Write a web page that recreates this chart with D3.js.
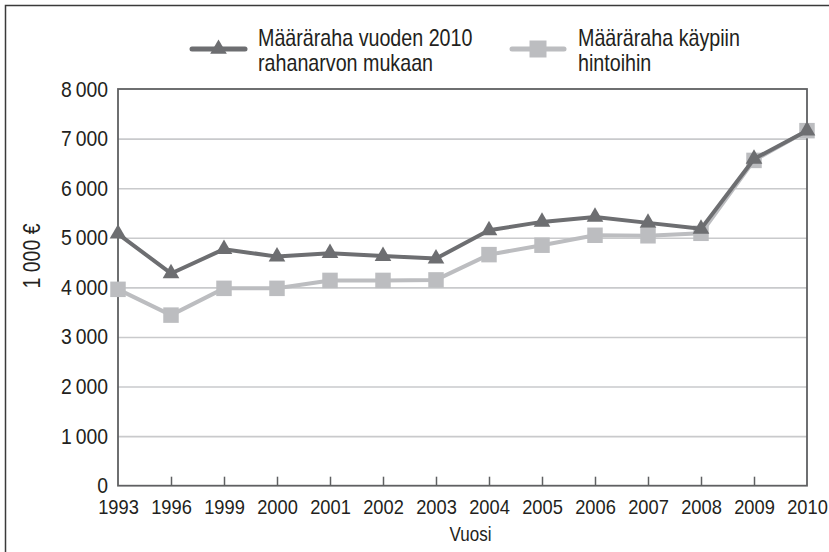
<!DOCTYPE html>
<html>
<head>
<meta charset="utf-8">
<script src="https://cdn.jsdelivr.net/npm/d3@7"></script>
<style>
  html, body { margin: 0; padding: 0; background: #fff; }
  svg { display: block; }
  text { font-family: "Liberation Sans", Arial, sans-serif; fill: #231f20; }
</style>
</head>
<body>
<svg id="chart" width="829" height="552"></svg>
<script>
const years = ["1993","1996","1999","2000","2001","2002","2003","2004","2005","2006","2007","2008","2009","2010"];
const realValues = [5080, 4280, 4770, 4620, 4690, 4630, 4580, 5150, 5320, 5420, 5300, 5180, 6590, 7160];
const nominalValues = [3960, 3440, 3980, 3980, 4140, 4140, 4150, 4660, 4850, 5050, 5040, 5090, 6560, 7160];
const yTicks = [0, 1000, 2000, 3000, 4000, 5000, 6000, 7000, 8000];
const seriesNames = [["Määräraha vuoden 2010", "rahanarvon mukaan"], ["Määräraha käypiin", "hintoihin"]];
const yLabel = "1 000 €";
const xLabel = "Vuosi";

const W = 829, H = 552;
const plot = { left: 118, right: 807, top: 89, bottom: 485.7 };
const darkColor = "#6d6e71";
const lightColor = "#bcbdc0";
const frameColor = "#5f6062";
const gridColor = "#c9cacc";

const svg = d3.select("#chart");
const loc = d3.formatLocale({ decimal: ",", thousands: "\u2009", grouping: [3], currency: ["", "€"] });
const fmt = loc.format(",d");

const x = d3.scalePoint().domain(years).range([plot.left, plot.right]);
const y = d3.scaleLinear().domain([0, 8000]).range([plot.bottom, plot.top]);

function narrow(sel, k) {
  sel.each(function () {
    const len = this.getComputedTextLength();
    d3.select(this).attr("textLength", len * k).attr("lengthAdjust", "spacingAndGlyphs");
  });
}

// outer border (left & top visible, rest clipped)
svg.append("rect").attr("x", 5.5).attr("y", 5.5).attr("width", 840).attr("height", 560)
  .attr("fill", "none").attr("stroke", "#3a3a3a").attr("stroke-width", 1.5);

// gridlines
const grid = svg.append("g").attr("transform", `translate(${plot.left},0)`)
  .call(d3.axisLeft(y).tickValues(yTicks.filter(v => v > 0 && v < 8000)).tickSize(-(plot.right - plot.left)).tickFormat(""));
grid.select(".domain").remove();
grid.selectAll("line").attr("stroke", gridColor).attr("stroke-width", 1.6);

// y labels
const yAx = svg.append("g").attr("transform", `translate(${plot.left},0)`)
  .call(d3.axisLeft(y).tickValues(yTicks).tickSize(0).tickPadding(10).tickFormat(d => fmt(d)));
yAx.select(".domain").remove();
yAx.selectAll("text").attr("font-size", 22).attr("font-family", null).attr("fill", "#231f20").call(narrow, 0.88);

// plot frame
svg.append("rect").attr("x", plot.left).attr("y", plot.top)
  .attr("width", plot.right - plot.left).attr("height", plot.bottom - plot.top)
  .attr("fill", "none").attr("stroke", frameColor).attr("stroke-width", 1.8);

// x axis
const xAx = svg.append("g").attr("transform", `translate(0,${plot.bottom})`)
  .call(d3.axisBottom(x).tickSizeInner(-9).tickSizeOuter(0).tickPadding(13));
xAx.select(".domain").remove();
xAx.selectAll(".tick line").attr("stroke", frameColor).attr("stroke-width", 1.5)
  .attr("display", (d, i) => (i === 0 || i === years.length - 1) ? "none" : null);
xAx.selectAll("text").attr("font-size", 21).attr("font-family", null).attr("fill", "#231f20").call(narrow, 0.87);

// axis titles
svg.append("text").attr("x", (plot.left + plot.right) / 2 + 8).attr("y", 541)
  .attr("text-anchor", "middle").attr("font-size", 20).text(xLabel).call(narrow, 0.85);
svg.append("text").attr("transform", `translate(40,256) rotate(-90)`)
  .attr("text-anchor", "middle").attr("font-size", 23).text(yLabel).call(narrow, 0.85);

// series
const line = d3.line().x((d, i) => x(years[i])).y(d => y(d));
const tri = d3.symbol().type(d3.symbolTriangle).size(120);
const sq = d3.symbol().type(d3.symbolSquare).size(240);

svg.append("path").datum(nominalValues).attr("d", line)
  .attr("fill", "none").attr("stroke", lightColor).attr("stroke-width", 4).attr("stroke-linejoin", "round");
svg.append("g").selectAll("path").data(nominalValues).join("path")
  .attr("transform", (d, i) => `translate(${x(years[i])},${y(d)})`).attr("d", sq).attr("fill", lightColor);

svg.append("path").datum(realValues).attr("d", line)
  .attr("fill", "none").attr("stroke", darkColor).attr("stroke-width", 4).attr("stroke-linejoin", "round");
svg.append("g").selectAll("path").data(realValues).join("path")
  .attr("transform", (d, i) => `translate(${x(years[i])},${y(d)})`).attr("d", tri).attr("fill", darkColor);

// legend
const legendItems = [
  { names: seriesNames[0], color: darkColor, sym: tri, x0: 192, x1: 245, tx: 258 },
  { names: seriesNames[1], color: lightColor, sym: d3.symbol().type(d3.symbolSquare).size(289), x0: 512, x1: 564, tx: 578 }
];
const lg = svg.append("g");
legendItems.forEach(it => {
  const g = lg.append("g");
  g.append("line").attr("x1", it.x0).attr("x2", it.x1).attr("y1", 49).attr("y2", 49)
    .attr("stroke", it.color).attr("stroke-width", 5).attr("stroke-linecap", "round");
  g.append("path").attr("transform", `translate(${(it.x0 + it.x1) / 2},49)`).attr("d", it.sym).attr("fill", it.color);
  const t = g.append("text").attr("x", it.tx).attr("y", 46).attr("font-size", 24);
  t.append("tspan").attr("x", it.tx).attr("dy", 0).text(it.names[0]);
  t.append("tspan").attr("x", it.tx).attr("dy", 25).text(it.names[1]);
  t.selectAll("tspan").call(narrow, 0.82);
});
</script>
</body>
</html>
